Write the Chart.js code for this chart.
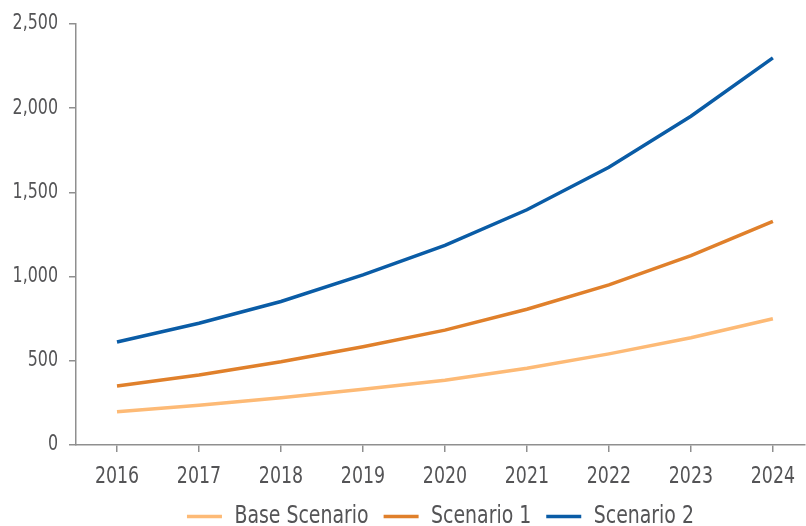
<!DOCTYPE html>
<html>
<head>
<meta charset="utf-8">
<script src="https://cdn.jsdelivr.net/npm/chart.js@4"></script>
<style>
    body { margin: 0; background: #ffffff; }
    #chart-wrap { width: 806px; height: 526px; }
</style>
</head>
<body>
<div id="chart-wrap">
    <canvas id="scenarioChart" width="806" height="526"></canvas>
</div>
<script>
// Data
const years = [2016, 2017, 2018, 2019, 2020, 2021, 2022, 2023, 2024];
const baseScenario = [198, 236, 280, 331, 384, 456, 541, 637, 750];
const scenario1 = [351, 416, 494, 584, 682, 806, 951, 1124, 1328];
const scenario2 = [612, 723, 852, 1010, 1185, 1397, 1649, 1952, 2299];
const yTicks = [0, 500, 1000, 1500, 2000, 2500];
const seriesNames = ['Base Scenario', 'Scenario 1', 'Scenario 2'];

const textColor = '#545456';
const axisColor = '#8f8f8f';
const fontFamily = '"DejaVu Sans Condensed", "DejaVu Sans", sans-serif';
const condense = 0.84; // originalet använder ett smalt typsnitt

// Gör om år + värden till punkter för den linjära x-axeln
function toPoints(values) {
    return years.map((year, i) => ({ x: year, y: values[i] }));
}

// Skapa en linje-serie
function makeSeries(label, values, color) {
    return {
        label: label,
        data: toPoints(values),
        borderColor: color,
        backgroundColor: color,
        borderWidth: 3.5,
        pointRadius: 0,
        tension: 0,
        fill: false
    };
}

const ctx = document.getElementById('scenarioChart').getContext('2d');

// Pressa ihop texten horisontellt så den liknar ett condensed-typsnitt
const rawMeasure = ctx.measureText.bind(ctx);
const rawFill = ctx.fillText.bind(ctx);
ctx.measureText = text => {
    const m = rawMeasure(text);
    return {
        width: m.width * condense,
        actualBoundingBoxAscent: m.actualBoundingBoxAscent,
        actualBoundingBoxDescent: m.actualBoundingBoxDescent,
        actualBoundingBoxLeft: m.actualBoundingBoxLeft * condense,
        actualBoundingBoxRight: m.actualBoundingBoxRight * condense
    };
};
ctx.fillText = (text, x, y) => rawFill(text, x, y, rawMeasure(text).width * condense);

const chart = new Chart(ctx, {
    type: 'line',
    data: {
        datasets: [
            makeSeries(seriesNames[0], baseScenario, '#fdba76'),
            makeSeries(seriesNames[1], scenario1, '#e0802b'),
            makeSeries(seriesNames[2], scenario2, '#0a5ca6')
        ]
    },
    options: {
        responsive: false,
        animation: false,
        devicePixelRatio: 1,
        layout: {
            padding: { top: 24, right: 0, left: 0, bottom: -13 }
        },
        scales: {
            x: {
                type: 'linear',
                min: years[0] - 0.5,
                max: 2024.39,
                afterBuildTicks: axis => {
                    axis.ticks = years.map(v => ({ value: v })); // bara årtalen
                },
                afterFit: axis => { axis.height = 44; },
                grid: {
                    drawOnChartArea: false,
                    tickLength: 7,
                    color: axisColor,
                    lineWidth: 1.5
                },
                border: { color: axisColor, width: 1.5 },
                ticks: {
                    color: textColor,
                    padding: 11,
                    maxRotation: 0,
                    font: { family: fontFamily, size: 23 },
                    callback: value => String(value)
                }
            },
            y: {
                min: 0,
                max: 2500,
                afterBuildTicks: axis => {
                    axis.ticks = yTicks.map(v => ({ value: v }));
                },
                afterFit: axis => { axis.width = 76; },
                grid: {
                    drawOnChartArea: false,
                    tickLength: 7,
                    color: axisColor,
                    lineWidth: 1.5
                },
                border: { color: axisColor, width: 1.5 },
                ticks: {
                    color: textColor,
                    padding: 11,
                    font: { family: fontFamily, size: 21 },
                    callback: value => value.toLocaleString('en-US')
                }
            }
        },
        plugins: {
            legend: {
                position: 'bottom',
                fullSize: false,
                labels: {
                    color: textColor,
                    font: { family: fontFamily, size: 25 },
                    usePointStyle: true,
                    pointStyle: 'line',
                    pointStyleWidth: 35,
                    padding: 15
                }
            },
            tooltip: { enabled: false }
        }
    }
});
</script>
</body>
</html>
